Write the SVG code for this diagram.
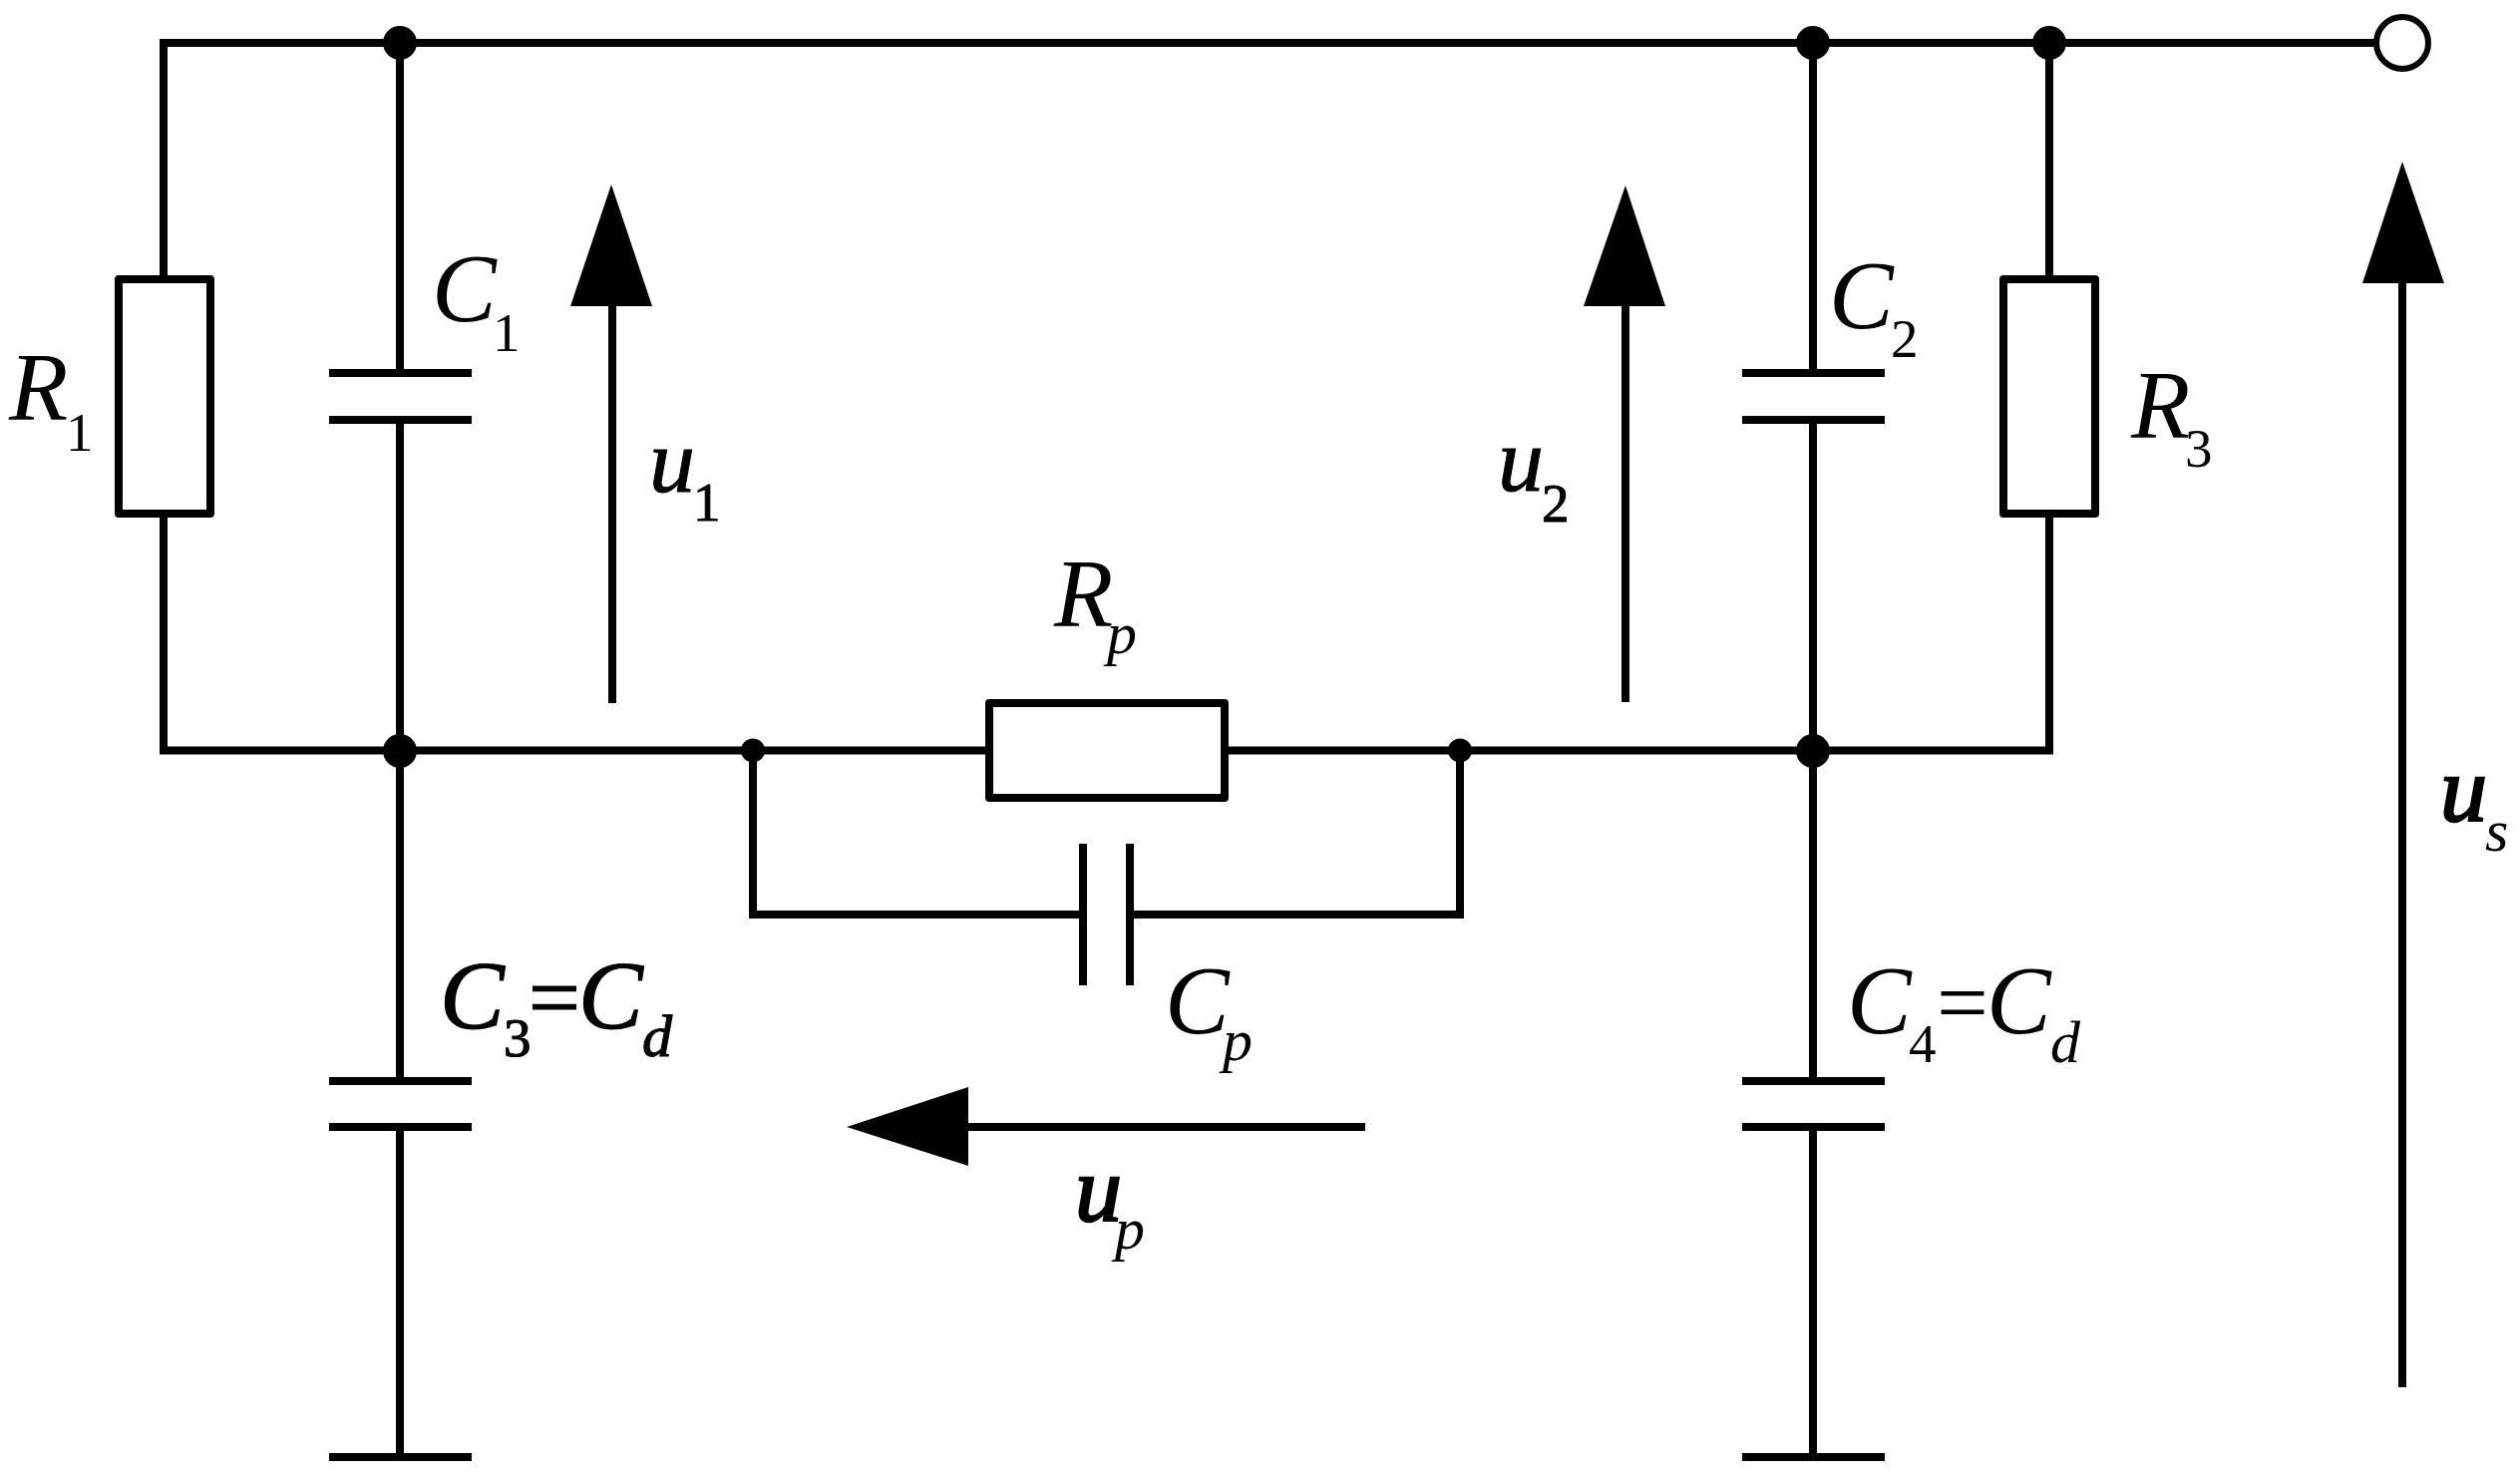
<svg xmlns="http://www.w3.org/2000/svg" width="2527" height="1480" viewBox="0 0 2527 1480">
<style>
.w{fill:none;stroke:#000;stroke-width:8;stroke-linecap:square;stroke-linejoin:miter}
.p{fill:none;stroke:#000;stroke-width:8;stroke-linecap:butt}
.r{fill:#fff;stroke:#000;stroke-width:8;stroke-linejoin:round}
.d{fill:#000}
.a{fill:#000}
text{font-family:"Liberation Serif","Times New Roman",serif;fill:#000}
.m{font-size:97px;font-style:italic}
.n{font-size:92px;font-style:italic}
.s{font-size:55px}
.i{font-size:60px;font-style:italic}
.e{font-size:92px}
.h{stroke:#000;stroke-width:1.2px}
.b{stroke:#000;stroke-width:1px}
.u{font-size:94px;font-style:italic;stroke:#000;stroke-width:2.4px}
</style>
<rect width="2527" height="1480" fill="#fff"/>
<g id="connectors">
<path class="w" d="M2381 43H164V752.500H988"/>
<path class="w" d="M1232 752.500H2055V43"/>
<path class="w" d="M401 43V372"/>
<path class="w" d="M401 423V1084"/>
<path class="w" d="M401 1130V1461"/>
<path class="w" d="M1818 43V372"/>
<path class="w" d="M1818 423V1084"/>
<path class="w" d="M1818 1130V1461"/>
<path class="w" d="M755 752.500V917H1086"/>
<path class="w" d="M1133 917H1464V752.500"/>
<g id="voltage-arrows">
<path class="p" d="M614 307V705"/>
<path class="p" d="M1630 307V704"/>
<path class="p" d="M2409 284V1391"/>
<path class="p" d="M971 1130H1369"/>
<path class="a" d="M613 185L654 307H572Z"/>
<path class="a" d="M1630 186L1670 307H1588Z"/>
<path class="a" d="M2409 162L2451 284H2369Z"/>
<path class="a" d="M849 1130L971 1090V1169Z"/>
</g>
</g>
<g id="R1"><rect class="r" x="119" y="280" width="92" height="235"/><text><tspan class="m" x="9" y="421">R</tspan><tspan class="s" x="66" y="452">1</tspan></text></g>
<g id="R3"><rect class="r" x="2009" y="280" width="92" height="235"/><text><tspan class="m" x="2137" y="439">R</tspan><tspan class="s" x="2191" y="468">3</tspan></text></g>
<g id="Rp"><rect class="r" x="992" y="705" width="236" height="95"/><text><tspan class="m" x="1057" y="628">R</tspan><tspan class="i" x="1110" y="655">p</tspan></text></g>
<g id="C1"><path class="p" d="M330 374H473M330 421H473"/><text><tspan class="m" x="433" y="322">C</tspan><tspan class="s" x="494" y="352">1</tspan></text></g>
<g id="C2"><path class="p" d="M1747 374H1890M1747 421H1890"/><text><tspan class="m" x="1834" y="329">C</tspan><tspan class="s" x="1896" y="358">2</tspan></text></g>
<g id="C3"><path class="p" d="M330 1084H473M330 1130H473"/><text class="h"><tspan class="m" x="441" y="1031">C</tspan><tspan class="s" x="505" y="1059">3</tspan><tspan class="e" x="530" y="1031">=</tspan><tspan class="m" x="580" y="1031">C</tspan><tspan class="i" x="644" y="1059">d</tspan></text></g>
<g id="C4"><path class="p" d="M1747 1084H1890M1747 1130H1890"/><text><tspan class="m" x="1852" y="1036">C</tspan><tspan class="s" x="1914" y="1065">4</tspan><tspan class="e" x="1942" y="1036">=</tspan><tspan class="m" x="1992" y="1036">C</tspan><tspan class="i" x="2056" y="1065">d</tspan></text></g>
<g id="Cp"><path class="p" d="M1086 846V988M1133 846V988"/><text><tspan class="m" x="1168" y="1036">C</tspan><tspan class="i" x="1226" y="1063">p</tspan></text></g>
<g id="ground-left"><path class="p" d="M330 1461H473"/></g>
<g id="ground-right"><path class="p" d="M1747 1461H1890"/></g>
<g id="junctions">
<circle class="d" cx="401" cy="43" r="17"/><circle class="d" cx="1818" cy="43" r="17"/><circle class="d" cx="2055" cy="43" r="17"/>
<circle class="d" cx="401" cy="753" r="17"/><circle class="d" cx="1818" cy="753" r="17"/>
<circle class="d" cx="755" cy="752.500" r="12"/><circle class="d" cx="1464" cy="752.500" r="12"/>
</g>
<g id="terminal"><circle cx="2409" cy="43" r="26" fill="#fff" stroke="#000" stroke-width="6"/></g>
<g id="label-u1"><text class="b"><tspan class="n" x="651" y="493">u</tspan><tspan class="s" x="695" y="522">1</tspan></text></g>
<g id="label-u2"><text class="b"><tspan class="n" x="1502" y="492">u</tspan><tspan class="s" x="1546" y="523">2</tspan></text></g>
<g id="label-up"><text><tspan class="u" x="1078" y="1224">u</tspan><tspan class="i" x="1118" y="1252">p</tspan></text></g>
<g id="label-us"><text><tspan class="u" x="2447" y="823">u</tspan><tspan class="i" x="2492" y="853">s</tspan></text></g>
</svg>
